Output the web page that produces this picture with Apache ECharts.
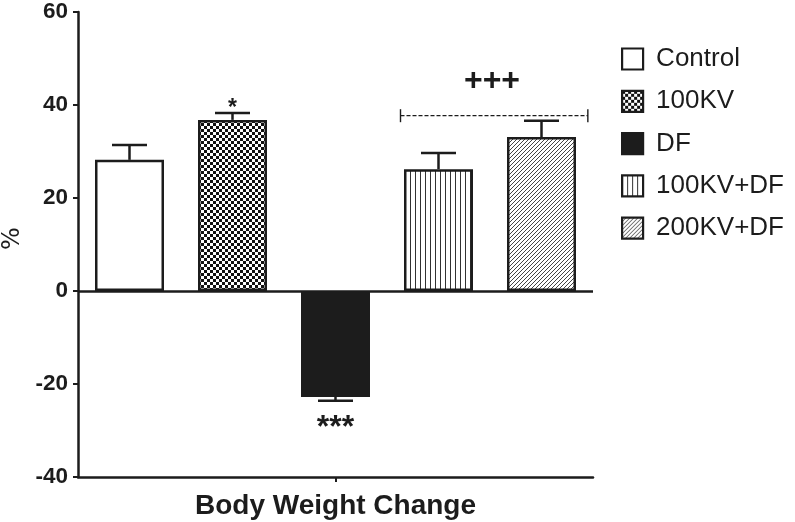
<!DOCTYPE html>
<html>
<head>
<meta charset="utf-8">
<script src="https://cdn.jsdelivr.net/npm/echarts@6/dist/echarts.min.js"></script>
<style>html,body{margin:0;padding:0;background:#fff}#c{width:795px;height:522px}</style>
</head>
<body>
<div id="c"></div>
<script>
// ---- data ----
var groupLabel = ['Body Weight Change'];
var seriesNames = ['Control', '100KV', 'DF', '100KV+DF', '200KV+DF'];
var means = [28.2, 36.8, -22.8, 26.2, 33.1];
var sems = [3.2, 1.5, 0.8, 3.5, 3.5];
var sigMarks = ['', '*', '***', '', ''];
var bracketLabel = '+++';
var bracketLevel = 37.7;
var bracketFrom = 3, bracketTo = 4;
var yTicks = { min: -40, max: 60, interval: 20 };

// ---- styles ----
var FONT = 'Liberation Sans, Arial, sans-serif';
var INK = '#1c1c1c';

function pattern(kind) {
  var c = document.createElement('canvas');
  var ctx;
  if (kind === 'checker') {
    c.width = 6; c.height = 6; ctx = c.getContext('2d');
    ctx.fillStyle = '#fff'; ctx.fillRect(0, 0, 6, 6);
    ctx.fillStyle = '#111'; ctx.fillRect(0, 0, 3, 3); ctx.fillRect(3, 3, 3, 3);
  } else if (kind === 'vertical') {
    c.width = 5; c.height = 4; ctx = c.getContext('2d');
    ctx.fillStyle = '#fff'; ctx.fillRect(0, 0, 5, 4);
    ctx.fillStyle = '#333'; ctx.fillRect(0, 0, 1, 4);
  } else if (kind === 'diag') {
    c.width = 4; c.height = 4; ctx = c.getContext('2d');
    ctx.fillStyle = '#fff'; ctx.fillRect(0, 0, 4, 4);
    ctx.fillStyle = '#444';
    for (var i = 0; i < 4; i++) ctx.fillRect(i, 3 - i, 1, 1);
  }
  return { image: c, repeat: 'repeat' };
}
var fills = ['#ffffff', pattern('checker'), INK, pattern('vertical'), pattern('diag')];

var chart = echarts.init(document.getElementById('c'), null, { renderer: 'canvas' });

var barSeries = seriesNames.map(function (name, i) {
  var d = seriesNames.map(function (_, j) { return j === i ? means[i] : null; });
  return {
    name: name, type: 'bar', xAxisIndex: 1, data: d,
    barWidth: 69, barGap: '-100%',
    itemStyle: { color: fills[i], borderColor: INK, borderWidth: 2.5 },
    z: 2
  };
});

var errData = means.map(function (m, i) { return [i, m, sems[i]]; });

var errorSeries = {
  type: 'custom', xAxisIndex: 1, data: errData, z: 5, silent: true,
  renderItem: function (params, api) {
    var i = api.value(0), m = api.value(1), s = api.value(2);
    var sign = m >= 0 ? 1 : -1;
    var p0 = api.coord([i, m]);
    var p1 = api.coord([i, m + sign * s]);
    var half = 17.5;
    var st = { stroke: INK, lineWidth: 2.5 };
    var children = [
      { type: 'line', shape: { x1: p0[0], y1: p0[1], x2: p1[0], y2: p1[1] }, style: st },
      { type: 'line', shape: { x1: p1[0] - half, y1: p1[1], x2: p1[0] + half, y2: p1[1] }, style: st }
    ];
    var mark = sigMarks[params.dataIndex];
    if (mark) {
      children.push({
        type: 'text',
        style: {
          text: mark, x: p1[0], y: sign > 0 ? p1[1] + 7 : p1[1] + 11,
          align: 'center', verticalAlign: sign > 0 ? 'bottom' : 'top',
          font: 'bold ' + (mark.length > 1 ? 32 : 23) + 'px ' + FONT, fill: INK
        }
      });
    }
    return { type: 'group', children: children };
  }
};

var bracketSeries = {
  type: 'custom', xAxisIndex: 1, data: [[bracketFrom, bracketLevel, bracketTo]], z: 5, silent: true,
  renderItem: function (params, api) {
    var a = api.coord([api.value(0), api.value(1)]);
    var b = api.coord([api.value(2), api.value(1)]);
    var band = api.size([1, 0])[0];
    var x1 = a[0] - 38, x2 = b[0] + band * 0.45, y = a[1];
    var st = { stroke: INK, lineWidth: 1.4 };
    return {
      type: 'group', children: [
        { type: 'line', shape: { x1: x1, y1: y, x2: x2, y2: y }, style: { stroke: INK, lineWidth: 1.2, lineDash: [4, 2] } },
        { type: 'line', shape: { x1: x1, y1: y - 6.5, x2: x1, y2: y + 6.5 }, style: st },
        { type: 'line', shape: { x1: x2, y1: y - 6.5, x2: x2, y2: y + 6.5 }, style: st },
        { type: 'text', style: { text: bracketLabel, x: (a[0] + b[0]) / 2 + 2, y: y - 19, align: 'center', verticalAlign: 'bottom', font: 'bold 32px ' + FONT, fill: INK } }
      ]
    };
  }
};

var zeroLine = {
  type: 'line', xAxisIndex: 1, data: [], silent: true,
  markLine: {
    silent: true, symbol: 'none', label: { show: false },
    lineStyle: { color: INK, width: 2.5, type: 'solid' },
    data: [{ yAxis: 0 }]
  }
};

chart.setOption({
  animation: false,
  backgroundColor: '#fff',
  grid: { left: 78, right: 202, top: 12, bottom: 45, containLabel: false, outerBoundsMode: 'none' },
  legend: {
    orient: 'vertical', left: 621, top: 46, padding: 0,
    itemWidth: 21, itemHeight: 21, itemGap: 16.3,
    icon: 'rect',
    data: seriesNames,
    itemStyle: { borderWidth: 2.2, borderColor: INK },
    textStyle: { fontFamily: FONT, fontSize: 26, color: INK, padding: [0, 0, 0, 8] }
  },
  xAxis: [
    {
      type: 'category', data: groupLabel, position: 'bottom',
      axisLine: { onZero: false, lineStyle: { color: INK, width: 2.5 } },
      axisTick: { show: true, alignWithLabel: true, length: 5, lineStyle: { color: INK, width: 2 } },
      axisLabel: { fontFamily: FONT, fontWeight: 'bold', fontSize: 28, color: INK, margin: 15 }
    },
    {
      type: 'category', data: seriesNames, show: false, boundaryGap: true
    }
  ],
  yAxis: {
    type: 'value', min: yTicks.min, max: yTicks.max, interval: yTicks.interval,
    name: '%', nameLocation: 'middle', nameGap: 48, nameRotate: 90,
    nameTextStyle: { fontFamily: 'DejaVu Sans, sans-serif', fontSize: 24, color: INK, padding: [0, 0, 0, 12] },
    axisLine: { show: true, lineStyle: { color: INK, width: 2.5 } },
    axisTick: { show: true, length: 5, lineStyle: { color: INK, width: 2 } },
    axisLabel: { fontFamily: FONT, fontWeight: 'bold', fontSize: 22.5, color: INK, margin: 10 },
    splitLine: { show: false }
  },
  series: barSeries.concat([errorSeries, bracketSeries, zeroLine])
});
</script>
</body>
</html>
